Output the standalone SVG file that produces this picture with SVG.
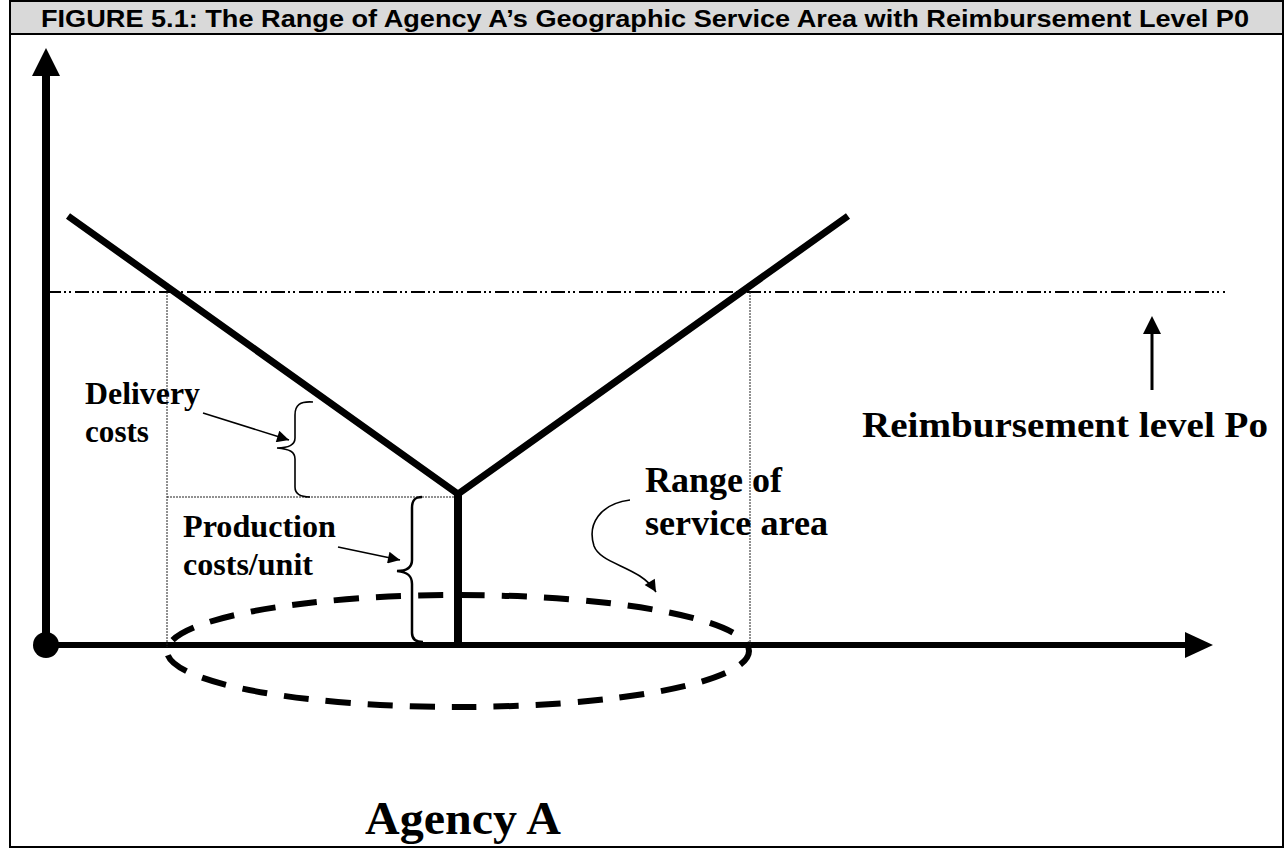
<svg xmlns="http://www.w3.org/2000/svg" width="1285" height="848" viewBox="0 0 1285 848">
<defs>
<style>
.lbl{font-family:"Liberation Serif","Times New Roman",serif;font-weight:bold;fill:#000}
.hdr{font-family:"Liberation Sans",Arial,sans-serif;font-weight:bold;fill:#000}
.thick{stroke:#000;stroke-width:7;fill:none;stroke-linecap:butt}
.dot{stroke:#222;stroke-width:1;stroke-dasharray:2 1;fill:none}
.thin{stroke:#000;stroke-width:1.6;fill:none}
</style>
<marker id="ahL" viewBox="0 0 10 10" refX="10" refY="5" markerWidth="16" markerHeight="12" markerUnits="userSpaceOnUse" orient="auto">
<path d="M0,0 L10,5 L0,10 Z" fill="#000"/>
</marker>
</defs>
<rect x="0" y="0" width="1285" height="848" fill="#fff"/>
<g id="frame">
<rect x="10" y="1" width="1273" height="33" fill="#d9d9d9" stroke="#000" stroke-width="2"/>
<rect x="10" y="1" width="1273" height="846" fill="none" stroke="#000" stroke-width="2"/>
<text class="hdr" x="645" y="27" font-size="23" text-anchor="middle" textLength="1208" lengthAdjust="spacingAndGlyphs">FIGURE 5.1:  The Range of Agency A’s Geographic Service Area with Reimbursement Level P0</text>
</g>
<g id="axes">
<line x1="46" y1="645" x2="46" y2="74" stroke="#000" stroke-width="8"/>
<polygon points="46,48 32,76 60,76" fill="#000"/>
<line x1="46" y1="645" x2="1187" y2="645" stroke="#000" stroke-width="6"/>
<polygon points="1213,645 1185,632 1185,658" fill="#000"/>
<circle cx="46" cy="645" r="13" fill="#000"/>
</g>
<g id="guides">
<line x1="47" y1="292" x2="1225" y2="292" stroke="#000" stroke-width="2" stroke-dasharray="14 3 2 3 2 4"/>
<line class="dot" x1="167" y1="283" x2="167" y2="647"/>
<line class="dot" x1="750" y1="292" x2="750" y2="647"/>
<line class="dot" x1="167" y1="497" x2="456" y2="497" stroke-width="1.5"/>
</g>
<g id="cost-curve">
<polyline class="thick" points="68,216 458,494 848,216" stroke-linejoin="miter"/>
<line x1="458" y1="492" x2="458" y2="645" stroke="#000" stroke-width="8"/>
</g>
<g id="service-area">
<ellipse cx="458" cy="651" rx="291" ry="56" fill="none" stroke="#000" stroke-width="6" stroke-dasharray="25 17" stroke-dashoffset="8"/>
</g>
<g id="connectors">
<path class="thin" d="M313,402 C300,401 295,405 295,415 L295,438 C295,444 290,448 277,448 C290,449 295,452 295,459 L295,487 C295,493 299,497 310,497"/>
<path d="M422,497 C414,497 412,501 412,508 L412,560 C412,566 408,571 397,571 C408,572 412,576 412,584 L412,633 C412,639 416,642 423,642" fill="none" stroke="#000" stroke-width="2.5"/>
<line class="thin" x1="203" y1="413" x2="289" y2="440" marker-end="url(#ahL)"/>
<line class="thin" x1="338" y1="547" x2="400" y2="560" marker-end="url(#ahL)"/>
<path class="thin" d="M630,500 C600,504 587,524 594,546 C601,565 640,566 656,592" marker-end="url(#ahL)"/>
<line x1="1152" y1="390" x2="1152" y2="333" stroke="#000" stroke-width="3"/>
<polygon points="1152,316 1143,334 1161,334" fill="#000"/>
</g>
<g id="labels">
<text class="lbl" x="85" y="404" font-size="31" textLength="115" lengthAdjust="spacingAndGlyphs">Delivery</text>
<text class="lbl" x="85" y="442" font-size="31" textLength="64" lengthAdjust="spacingAndGlyphs">costs</text>
<text class="lbl" x="183" y="537" font-size="31" textLength="153" lengthAdjust="spacingAndGlyphs">Production</text>
<text class="lbl" x="183" y="575" font-size="31" textLength="130" lengthAdjust="spacingAndGlyphs">costs/unit</text>
<text class="lbl" x="645" y="492" font-size="35" textLength="137" lengthAdjust="spacingAndGlyphs">Range of</text>
<text class="lbl" x="645" y="535" font-size="35" textLength="183" lengthAdjust="spacingAndGlyphs">service area</text>
<text class="lbl" x="862" y="437" font-size="36" textLength="406" lengthAdjust="spacingAndGlyphs">Reimbursement level Po</text>
<text class="lbl" x="365" y="834" font-size="47" textLength="196" lengthAdjust="spacingAndGlyphs">Agency A</text>
</g>
</svg>
